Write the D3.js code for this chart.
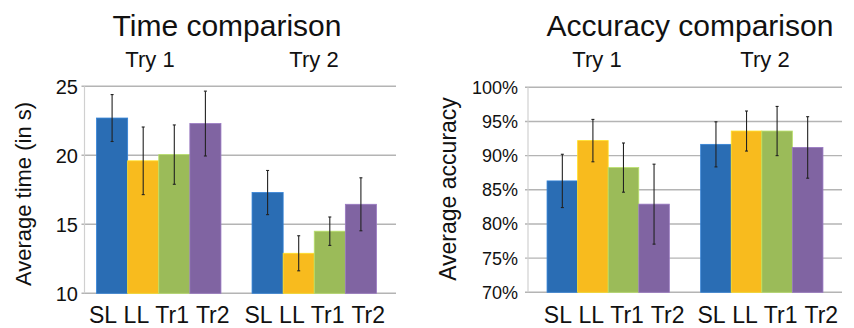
<!DOCTYPE html>
<html><head><meta charset="utf-8">
<script src="https://cdn.jsdelivr.net/npm/d3@7"></script>
<style>body{margin:0;background:#fff}svg{display:block}text{font-family:"Liberation Sans",Arial,sans-serif;fill:#111}</style>
</head><body><svg id="c" width="854" height="328"></svg>
<script>
const groups = ["Try 1", "Try 2"];
const categories = ["SL", "LL", "Tr1", "Tr2"];
const colors = ["#2a6db4", "#f8bb1e", "#9bbb59", "#8064a2"];
const timeMeans = [[22.7, 19.6, 20.05, 22.3], [17.3, 12.9, 14.5, 16.45]];
const timeErr = [[1.7, 2.45, 2.15, 2.35], [1.6, 1.27, 1.03, 1.92]];
const accMeans = [[86.3, 92.2, 88.25, 82.9], [91.65, 93.6, 93.6, 91.2]];
const accErr = [[3.9, 3.1, 3.6, 5.85], [3.3, 2.93, 3.6, 4.5]];
const timeTicks = [10, 15, 20, 25];
const accTicks = [70, 75, 80, 85, 90, 95, 100];

const svg = d3.select("#c");

function chart(cfg) {
  const g = svg.append("g");
  const y = d3.scaleLinear().domain(cfg.domain).range([cfg.y1, cfg.y0]);
  const x0 = d3.scaleBand().domain(groups).range(cfg.bandRange).paddingInner(cfg.pi).paddingOuter(cfg.po);
  const x1 = d3.scaleBand().domain(categories).range([0, x0.bandwidth()]);
  const color = d3.scaleOrdinal().domain(categories).range(colors);

  g.selectAll("line.grid").data(cfg.ticks).join("line")
    .attr("x1", cfg.xl - 3).attr("x2", cfg.xr)
    .attr("y1", d => y(d)).attr("y2", d => y(d))
    .attr("stroke", "#b4b4b4").attr("stroke-width", 1.4);
  g.append("line").attr("x1", cfg.xl).attr("x2", cfg.xl)
    .attr("y1", y(cfg.domain[1])).attr("y2", y(cfg.domain[0]))
    .attr("stroke", "#d0d0d0").attr("stroke-width", 1.2);

  g.selectAll("text.tick").data(cfg.ticks).join("text")
    .attr("x", cfg.tickX).attr("y", d => y(d)).attr("dy", "0.36em")
    .attr("text-anchor", "end").style("font-size", cfg.tickSize + "px")
    .text(cfg.fmt);

  groups.forEach((grp, gi) => {
    const gg = g.append("g").attr("transform", `translate(${x0(grp)},0)`);
    const data = categories.map((c, ci) => ({c, v: cfg.means[gi][ci], e: cfg.err[gi][ci]}));
    gg.selectAll("rect").data(data).join("rect")
      .attr("x", d => x1(d.c)).attr("width", x1.bandwidth())
      .attr("y", d => y(d.v)).attr("height", d => y(cfg.domain[0]) - y(d.v))
      .attr("fill", d => color(d.c))
      .attr("stroke", d => d3.color(color(d.c)).brighter(0.5)).attr("stroke-width", 0.8);
    const eb = gg.selectAll("g.eb").data(data).join("g");
    eb.append("line").attr("x1", d => x1(d.c) + x1.bandwidth() / 2).attr("x2", d => x1(d.c) + x1.bandwidth() / 2)
      .attr("y1", d => y(d.v + d.e)).attr("y2", d => y(d.v - d.e))
      .attr("stroke", "#222").attr("stroke-width", 1.1);
    [1, -1].forEach(s => {
      eb.append("line").attr("x1", d => x1(d.c) + x1.bandwidth() / 2 - 1.5).attr("x2", d => x1(d.c) + x1.bandwidth() / 2 + 1.5)
        .attr("y1", d => y(d.v + s * d.e)).attr("y2", d => y(d.v + s * d.e))
        .attr("stroke", "#222").attr("stroke-width", 1.1);
    });
    g.append("text").attr("x", x0(grp) + x0.bandwidth() / 2 + cfg.catDx).attr("y", 323)
      .attr("text-anchor", "middle").style("font-size", "23px").style("word-spacing", "1px")
      .text(categories.join(" "));
    g.append("text").attr("x", cfg.groupX[gi]).attr("y", 66.5)
      .attr("text-anchor", "middle").style("font-size", "22px").text(grp);
  });

  g.append("text").attr("x", cfg.titleX).attr("y", 35.5).attr("text-anchor", "middle")
    .style("font-size", "30px").text(cfg.title);
  g.append("text").attr("transform", `translate(${cfg.yTitleX},${cfg.yTitleY}) rotate(-90)`)
    .attr("text-anchor", "middle").style("font-size", cfg.yTitleSize + "px").text(cfg.yTitle);
}

chart({
  domain: [10, 25], y0: 86.3, y1: 293.3, xl: 84.5, xr: 396,
  bandRange: [81, 392], pi: 0.2, po: 0.1,
  ticks: timeTicks, tickX: 78, tickSize: 20, fmt: d => d,
  means: timeMeans, err: timeErr, catDx: 0.5,
  groupX: [150, 314], title: "Time comparison", titleX: 227,
  yTitle: "Average time (in s)", yTitleX: 30.5, yTitleY: 194, yTitleSize: 22
});
chart({
  domain: [70, 100], y0: 87.3, y1: 292.3, xl: 528, xr: 842,
  bandRange: [528, 842], pi: 0.204, po: 0.124,
  ticks: accTicks, tickX: 518, tickSize: 18, fmt: d => d + "%",
  means: accMeans, err: accErr, catDx: 6,
  groupX: [597, 765], title: "Accuracy comparison", titleX: 690,
  yTitle: "Average accuracy", yTitleX: 456, yTitleY: 189, yTitleSize: 23
});
</script></body></html>
